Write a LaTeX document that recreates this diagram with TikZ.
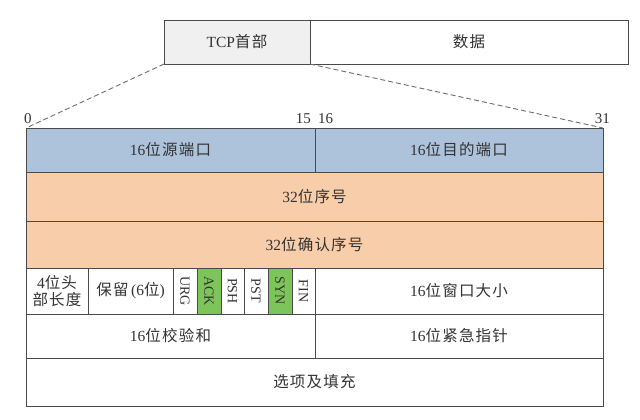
\documentclass[tikz,border=0pt]{standalone}
\usepackage{fontspec}
\setmainfont{Liberation Serif}
\newfontfamily\cjk[LetterSpace=8]{Noto Sans CJK SC}
\newcommand\zh[1]{{\cjk #1}}
\definecolor{linec}{HTML}{4A4A4A}
\definecolor{txtc}{HTML}{333333}
\definecolor{bluef}{HTML}{ADC2DB}
\definecolor{orangef}{HTML}{F8CDAA}
\definecolor{greenf}{HTML}{7DC55A}
\definecolor{grayf}{HTML}{F0F0F0}
\begin{document}
\begin{tikzpicture}[x=1pt,y=-1pt,
  cell/.style={draw=linec, line width=0.9pt, inner sep=0pt, outer sep=0pt, anchor=north west,
     text=txtc, font=\fontsize{15.5}{18}\selectfont, align=center},
  flag/.style={cell},
  bitlab/.style={text=txtc, font=\fontsize{15}{17}\selectfont, inner sep=0pt},
  guide/.style={draw=linec!80, line width=0.9pt, dash pattern=on 5pt off 3pt}]
\useasboundingbox (0,0) rectangle (640,420);
\fill[white] (0,0) rectangle (640,420);
% top boxes
\node[cell, fill=grayf, minimum width=146pt, minimum height=44pt] (tcp) at (164,20) {TCP\zh{首部}};
\node[cell, fill=white, minimum width=318pt, minimum height=44pt] (data) at (310,20) {\zh{数据}};
% row 1
\node[cell, fill=bluef, minimum width=289pt, minimum height=44pt] (src) at (26,128) {16\zh{位源端口}};
\node[cell, fill=bluef, minimum width=288pt, minimum height=44pt] (dst) at (315,128) {16\zh{位目的端口}};
% rows 2,3
\node[cell, fill=orangef, minimum width=577pt, minimum height=49pt] (seq) at (26,172) {32\zh{位序号}};
\node[cell, fill=orangef, minimum width=577pt, minimum height=47pt] (ack) at (26,221) {32\zh{位确认序号}};
% row 4
\node[cell, minimum width=62pt, minimum height=46pt] (hlen) at (26,268) {4\zh{位头}\\[-1pt]\zh{部长度}};
\node[cell, minimum width=85pt, minimum height=46pt] (resv) at (88,268) {\zh{保留}\,(6\zh{位})};
\node[flag, minimum width=24pt, minimum height=46pt] (urg) at (173,268) {};
\node[flag, fill=greenf, minimum width=24pt, minimum height=46pt] (ackf) at (197,268) {};
\node[flag, minimum width=23pt, minimum height=46pt] (psh) at (221,268) {};
\node[flag, minimum width=24pt, minimum height=46pt] (pst) at (244,268) {};
\node[flag, fill=greenf, minimum width=24pt, minimum height=46pt] (syn) at (268,268) {};
\node[flag, minimum width=23pt, minimum height=46pt] (fin) at (292,268) {};
\foreach \n/\t in {urg/URG, ackf/ACK, psh/PSH, pst/PST, syn/SYN, fin/FIN}
  \node[rotate=-90, text=txtc, font=\fontsize{14}{16}\selectfont, inner sep=0pt] at (\n.center) {\t};
\node[cell, minimum width=288pt, minimum height=46pt] (win) at (315,268) {16\zh{位窗口大小}};
% row 5
\node[cell, minimum width=289pt, minimum height=44pt] (csum) at (26,314) {16\zh{位校验和}};
\node[cell, minimum width=288pt, minimum height=44pt] (urgp) at (315,314) {16\zh{位紧急指针}};
% row 6
\node[cell, minimum width=577pt, minimum height=48pt] (opt) at (26,358) {\zh{选项及填充}};
% bit labels
\node[bitlab, anchor=base west] (b0) at (24,123) {0};
\node[bitlab, anchor=base east] (b15) at (311,123) {15};
\node[bitlab, anchor=base west] (b16) at (318,123) {16};
\node[bitlab, anchor=base east] (b31) at (610,123) {31};
% guides
\draw[guide] (tcp.south west) -- (src.north west);
\draw[guide] (tcp.south east) -- (dst.north east);
\end{tikzpicture}
\end{document}
